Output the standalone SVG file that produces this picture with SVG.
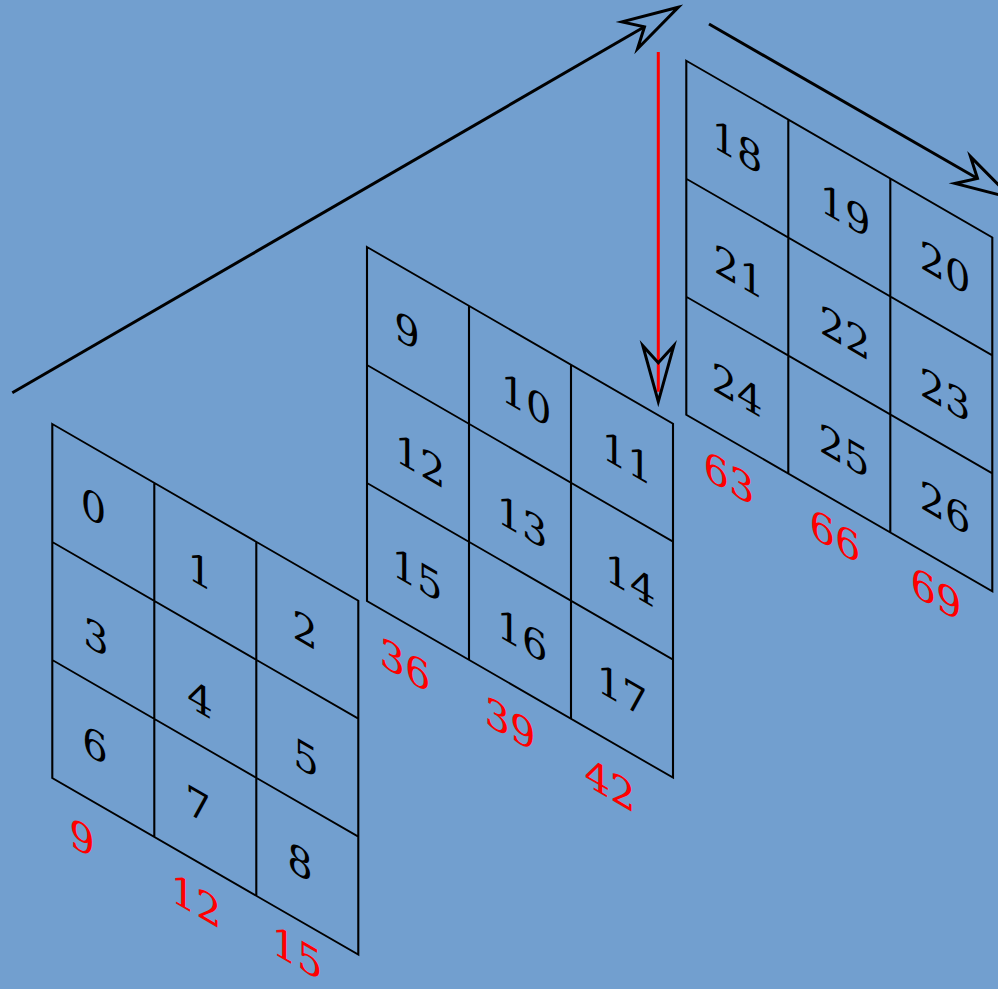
<svg xmlns="http://www.w3.org/2000/svg" width="998" height="989" viewBox="0 0 998 989">
<style>
.bg{fill:#729fcf}
.frame{fill:none;stroke:#000;stroke-width:2.1;vector-effect:non-scaling-stroke}
.n{font-family:"DejaVu Serif","Liberation Serif",serif;font-size:40px;text-anchor:middle;fill:#000}
.r{fill:#ff0000}
.ln{fill:none;stroke:#000;stroke-width:3}
.lr{fill:none;stroke:#ff0000;stroke-width:3}
.head{fill:none;stroke:#000;stroke-width:3;stroke-miterlimit:10;stroke-linejoin:miter}
</style>
<defs>
<marker id="hNotch" markerUnits="userSpaceOnUse" orient="auto" refX="-39" refY="0" markerWidth="1" markerHeight="1" overflow="visible"><path class="head" d="M0,0 L-56,-15.5 L-39,0 L-56,15.5 Z"/></marker>
<marker id="hIn" markerUnits="userSpaceOnUse" orient="auto" refX="-10" refY="0" markerWidth="1" markerHeight="1" overflow="visible"><path class="head" d="M0,0 L-56,-15.5 L-39,0 L-56,15.5 Z"/></marker>
<path id="gridShape" d="M0,0 H306 V354 H0 Z M102,0 V354 M204,0 V354 M0,118 H306 M0,236 H306"/>
</defs>
<rect class="bg" x="0" y="0" width="998" height="989"/>

<g id="grid-1">
<g transform="translate(52.3,424) skewY(30)"><use href="#gridShape" class="frame"/></g>
<text class="n" transform="translate(93.5,507) skewY(30)" y="14">0</text>
<text class="n" transform="translate(200,571) skewY(30)" y="14">1</text>
<text class="n" transform="translate(305,630) skewY(30)" y="14">2</text>
<text class="n" transform="translate(96,637) skewY(30)" y="14">3</text>
<text class="n" transform="translate(200,699) skewY(30)" y="14">4</text>
<text class="n" transform="translate(306,758) skewY(30)" y="14">5</text>
<text class="n" transform="translate(95,745) skewY(30)" y="14">6</text>
<text class="n" transform="translate(198,805) skewY(30)" y="14">7</text>
<text class="n" transform="translate(300,862) skewY(30)" y="14">8</text>
</g>
<g id="sums-1">
<text class="n r" transform="translate(82,838) skewY(30)" y="14">9</text>
<text class="n r" transform="translate(196,901) skewY(30)" y="14">12</text>
<text class="n r" transform="translate(297,953) skewY(30)" y="14">15</text>
</g>

<g id="grid-2">
<g transform="translate(367,247) skewY(30)"><use href="#gridShape" class="frame"/></g>
<text class="n" transform="translate(407,331) skewY(30)" y="14">9</text>
<text class="n" transform="translate(526,400) skewY(30)" y="14">10</text>
<text class="n" transform="translate(627,458) skewY(30)" y="14">11</text>
<text class="n" transform="translate(420,461) skewY(30)" y="14">12</text>
<text class="n" transform="translate(522,522) skewY(30)" y="14">13</text>
<text class="n" transform="translate(630,580) skewY(30)" y="14">14</text>
<text class="n" transform="translate(417,575) skewY(30)" y="14">15</text>
<text class="n" transform="translate(522,636) skewY(30)" y="14">16</text>
<text class="n" transform="translate(622,691) skewY(30)" y="14">17</text>
</g>
<g id="sums-2">
<text class="n r" transform="translate(405,665) skewY(30)" y="14">36</text>
<text class="n r" transform="translate(510,724) skewY(30)" y="14">39</text>
<text class="n r" transform="translate(610,785) skewY(30)" y="14">42</text>
</g>

<g id="grid-3">
<g transform="translate(686.3,60.7) skewY(30)"><use href="#gridShape" class="frame"/></g>
<text class="n" transform="translate(737,147) skewY(30)" y="14">18</text>
<text class="n" transform="translate(845,211) skewY(30)" y="14">19</text>
<text class="n" transform="translate(945,268) skewY(30)" y="14">20</text>
<text class="n" transform="translate(739,272) skewY(30)" y="14">21</text>
<text class="n" transform="translate(845,333) skewY(30)" y="14">22</text>
<text class="n" transform="translate(945,395) skewY(30)" y="14">23</text>
<text class="n" transform="translate(737,390) skewY(30)" y="14">24</text>
<text class="n" transform="translate(844,451) skewY(30)" y="14">25</text>
<text class="n" transform="translate(945,508) skewY(30)" y="14">26</text>
</g>
<g id="sums-3">
<text class="n r" transform="translate(729,478) skewY(30)" y="14">63</text>
<text class="n r" transform="translate(835,536) skewY(30)" y="14">66</text>
<text class="n r" transform="translate(936,594) skewY(30)" y="14">69</text>
</g>

<g id="connectors">
<path class="ln" d="M12.3,392.7 L644.5,26.8" marker-end="url(#hNotch)"/>
<path class="lr" d="M658.3,52 L658.3,391.7" marker-end="url(#hIn)"/>
<path class="ln" d="M709,24 L977.5,178.5" marker-end="url(#hNotch)"/>
</g>
</svg>
